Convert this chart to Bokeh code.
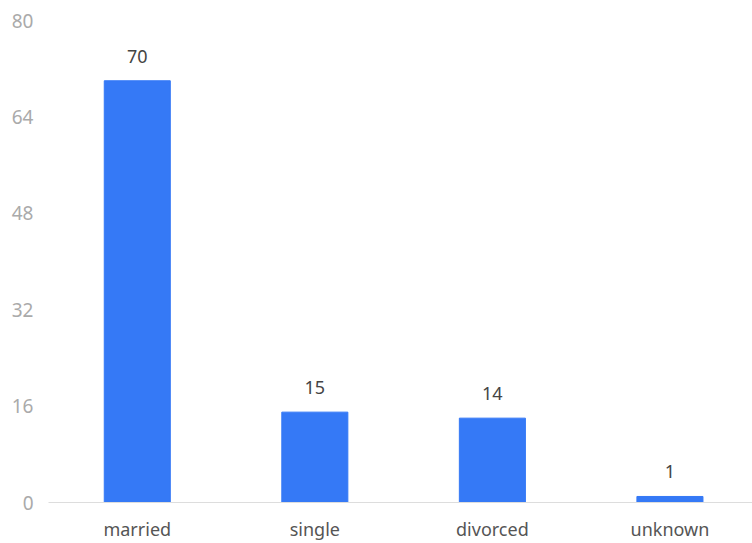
from bokeh.plotting import figure
from bokeh.models import ColumnDataSource, Range1d, FixedTicker, LabelSet
from bokeh.core.properties import value
from bokeh.embed import file_html
from bokeh.resources import INLINE

# Marital status counts
categories = ["married", "single", "divorced", "unknown"]
counts = [70, 15, 14, 1]
y_ticks = [0, 16, 32, 48, 64, 80]

positions = list(range(len(categories)))
source = ColumnDataSource(data=dict(x=positions, count=counts, label=[str(c) for c in counts]))

FONT = "Noto Sans"

p = figure(
    width=752, height=543,
    x_range=Range1d(-0.5, 3.465), y_range=Range1d(0, 80),
    output_backend="svg", toolbar_location=None,
    min_border_left=48, min_border_right=0, min_border_top=20, min_border_bottom=41,
)
p.outline_line_color = None
p.xgrid.grid_line_color = None
p.ygrid.grid_line_color = None

p.vbar(x="x", top="count", width=0.372, source=source, color="#3579f6")

labels = LabelSet(x="x", y="count", text="label", source=source,
                  text_align="center", text_baseline="alphabetic", y_offset=18,
                  text_font=value(FONT), text_font_size=value("18px"), text_color="#444444")
p.add_layout(labels)

# x axis: category names under each bar
p.xaxis.ticker = FixedTicker(ticks=positions)
p.xaxis.major_label_overrides = {i: c for i, c in enumerate(categories)}
p.xaxis.axis_line_color = "#dddddd"
p.xaxis.major_tick_line_color = None
p.xaxis.minor_tick_line_color = None
p.xaxis.major_label_standoff = 8
p.xaxis.major_label_text_font = FONT
p.xaxis.major_label_text_font_size = "18px"
p.xaxis.major_label_text_color = "#555555"

# y axis: labels only
p.yaxis.ticker = FixedTicker(ticks=y_ticks)
p.yaxis.axis_line_color = None
p.yaxis.major_tick_line_color = None
p.yaxis.minor_tick_line_color = None
p.yaxis.major_label_standoff = 9
p.yaxis.major_label_text_font = FONT
p.yaxis.major_label_text_font_size = "19px"
p.yaxis.major_label_text_color = "#aaaaaa"

open("out.html", "w").write(file_html(p, INLINE))
